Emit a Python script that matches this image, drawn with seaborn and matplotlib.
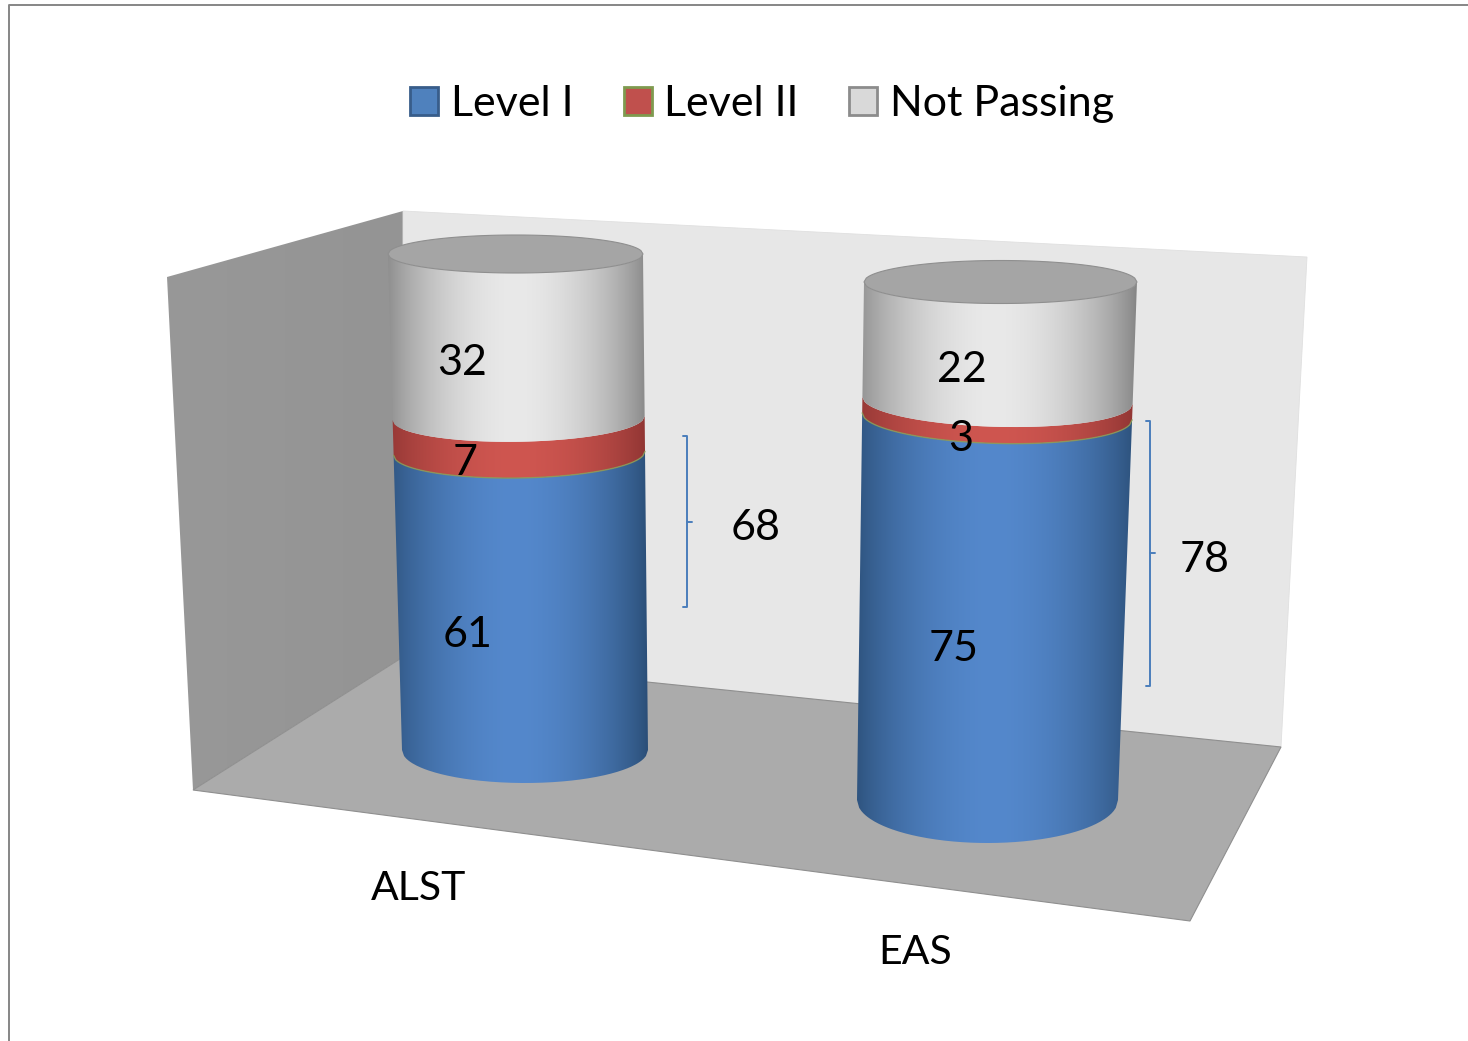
import numpy as np
import pandas as pd
import matplotlib
matplotlib.use("Agg")
import matplotlib.pyplot as plt
from matplotlib.patches import Patch, Polygon, PathPatch
from matplotlib.path import Path
from matplotlib.colors import to_rgb
import seaborn as sns

# ---- data ----
tests = ["ALST", "EAS"]
levels = ["Level I", "Level II", "Not Passing"]
level_1 = [61, 75]
level_2 = [7, 3]
not_passing = [32, 22]
combined = [68, 78]

# ---- styles ----
sns.set_theme(style="white")
plt.rcParams["font.family"] = ["Lato", "DejaVu Sans"]
W, H = 1468, 1041
fig = plt.figure(figsize=(W / 100, H / 100), dpi=100, facecolor="white")

face = ["#4f81bd", "#c0504d", "#d9d9d9"]
edge = ["#385d8a", "#7f9a4f", "#8c8c8c"]
bright = ["#5488cc", "#cf5650", "#e9e9e9"]
dark = ["#2b4f78", "#8e3432", "#868686"]

# stacked totals go through seaborn's value axis
frame = pd.DataFrame({"test": tests, "Level I": level_1, "Level II": level_2, "Not Passing": not_passing})
totals = frame[levels].cumsum(axis=1)
value_ax = fig.add_axes([0, 0, 1, 1], zorder=0)
for lvl in reversed(levels):
    sns.barplot(x=frame["test"], y=totals[lvl], ax=value_ax, color="white", width=1.0)
value_ax.set_ylim(0, 100)
heights = np.array([p.get_height() for p in value_ax.patches]).reshape(len(levels), len(tests))[::-1]
value_ax.remove()

ax = fig.add_axes([0, 0, 1, 1])
ax.set_xlim(0, W)
ax.set_ylim(H, 0)
ax.axis("off")

# ---- chart box / walls ----
ax.plot([9, 9, W], [H, 5, 5], color="#868686", lw=1.4, zorder=1)


def gradient_poly(pts, c0, c1, vertical=False, z=2):
    pts = np.array(pts, float)
    poly = Polygon(pts, closed=True, transform=ax.transData, fc="none", ec="none")
    ax.add_patch(poly)
    g = np.linspace(0, 1, 64)
    a, b = np.array(to_rgb(c0)), np.array(to_rgb(c1))
    img = (a[None, :] * (1 - g[:, None]) + b[None, :] * g[:, None])
    img = img[:, None, :] if vertical else img[None, :, :]
    x0, x1, y0, y1 = pts[:, 0].min(), pts[:, 0].max(), pts[:, 1].min(), pts[:, 1].max()
    im = ax.imshow(img, extent=(x0, x1, y1, y0), aspect="auto", zorder=z, interpolation="bilinear")
    im.set_clip_path(poly)


back_tl, back_tr, back_br, back_bl = (403, 211), (1307, 257), (1281, 747), (403, 657)
left_tl, left_bl = (167, 277), (193, 790)
floor_fr = (1190, 921)
gradient_poly([left_tl, back_tl, back_bl, left_bl], "#989898", "#949494", z=2)
ax.add_patch(Polygon([back_tl, back_tr, back_br, back_bl], fc="#e7e7e7", ec="#e0e0e0", lw=0.6, zorder=2))
ax.add_patch(Polygon([left_bl, back_bl, back_br, floor_fr], fc="#ababab", ec="#8f8f8f", lw=0.8, zorder=3))

# ---- cylinders ----
# per-cylinder geometry: bottom/top left, right, ellipse centre y, half height, tilt
geom = [
    dict(bl=402, br=648, bc=750, bh=33, tl=388, tr=643, tc=254, th=19, tilt=-2.0),
    dict(bl=857, br=1118, bc=800, bh=43, tl=864, tr=1137, tc=282, th=21.5, tilt=3.5),
]


def warp(v):
    t = v / 100.0
    return t - 0.05 * t * (1 - t)


def ring(g, v, n=120):
    t = warp(v)
    left = g["bl"] + (g["tl"] - g["bl"]) * t
    right = g["br"] + (g["tr"] - g["br"]) * t
    cy = g["bc"] + (g["tc"] - g["bc"]) * t
    hh = g["bh"] + (g["th"] - g["bh"]) * t
    tilt = g["tilt"] * (1 - abs(2 * t - 1) ** 6)
    u = np.linspace(-1, 1, n)
    x = (left + right) / 2 + u * (right - left) / 2
    return x, cy + tilt * u, hh * np.sqrt(1 - u ** 2), left, right


for i, g in enumerate(geom):
    x_lo = min(g["bl"], g["tl"]) - 2
    x_hi = max(g["br"], g["tr"]) + 2
    u_img = np.linspace(-1, 1, 256)
    shade = (1 - np.abs(u_img + 0.02) ** 1.8).clip(0, 1) ** 0.85
    prev = 0.0
    for j in range(len(levels)):
        top_val = heights[j][i]
        xb, yb, hb, _, _ = ring(g, prev)
        xt, yt, ht, _, _ = ring(g, top_val)
        pts = np.r_[np.c_[xb, yb + hb], np.c_[xt[::-1], (yt + ht)[::-1]]]
        clip = PathPatch(Path(np.r_[pts, pts[:1]]), fc="none", ec="none", transform=ax.transData)
        ax.add_patch(clip)
        a, b = np.array(to_rgb(dark[j])), np.array(to_rgb(bright[j]))
        img = a[None, None, :] * (1 - shade[None, :, None]) + b[None, None, :] * shade[None, :, None]
        y0, y1 = pts[:, 1].min(), pts[:, 1].max()
        im = ax.imshow(img, extent=(x_lo, x_hi, y1, y0), aspect="auto", zorder=5 + j, interpolation="bilinear")
        im.set_clip_path(clip)
        if j == 0:
            ax.plot(xt, yt + ht, color="#8a9a55", lw=1.0, zorder=8, alpha=0.85)
        prev = top_val
    # top cap
    xt, yt, ht, _, _ = ring(g, prev)
    cap = np.r_[np.c_[xt, yt + ht], np.c_[xt[::-1], (yt - ht)[::-1]]]
    ax.add_patch(Polygon(cap, fc="#a5a5a5", ec="#8f8f8f", lw=0.8, zorder=9))

# ---- value labels ----
num_size = 31
label_x = [[468, 465, 462], [954, 961, 962]]
label_y = [[635, 463, 363], [649, 439, 370]]
series = [level_1, level_2, not_passing]
for i in range(len(tests)):
    for j in range(len(levels)):
        ax.text(label_x[i][j], label_y[i][j], str(series[j][i]), ha="center", va="center",
                fontsize=num_size, color="black", zorder=12)

# ---- brackets ----
blue = "#4a7ebb"
bracket_x = [687, 1150]
bracket_y = [(436, 607, 522), (421, 686, 553)]
for i, bx in enumerate(bracket_x):
    y_a, y_b, y_m = bracket_y[i]
    ax.plot([bx - 4, bx, bx, bx - 4], [y_a, y_a, y_b, y_b], color=blue, lw=1.4, zorder=4)
    ax.plot([bx, bx + 5], [y_m, y_m], color=blue, lw=1.4, zorder=4)
bracket_lx = [756, 1205]
bracket_ly = [528, 560]
for i, val in enumerate(combined):
    ax.text(bracket_lx[i], bracket_ly[i], str(val), ha="center", va="center", fontsize=num_size, color="black", zorder=12)

# ---- category labels ----
cat_x = [419, 915]
cat_y = [889, 953]
for i, name in enumerate(tests):
    ax.text(cat_x[i], cat_y[i], name, ha="center", va="center", fontsize=29.5, color="black", zorder=12)

# ---- legend ----
handles = [Patch(fc=f, ec=e, lw=2) for f, e in zip(face, edge)]
ax.legend(handles, levels, loc="center", bbox_to_anchor=(762 / W, 1 - 104 / H), ncol=3, frameon=False,
          fontsize=31, handlelength=0.65, handleheight=0.65, handletextpad=0.3, columnspacing=1.16,
          borderpad=0, labelcolor="black")

fig.savefig("out.png", dpi=100, facecolor="white")
